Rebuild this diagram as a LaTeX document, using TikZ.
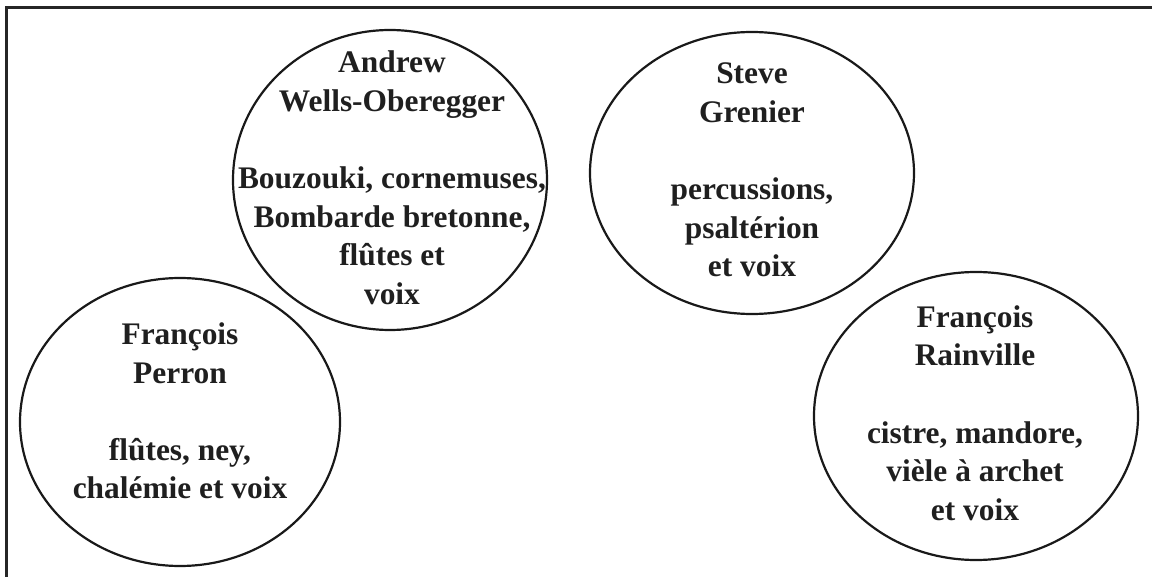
\documentclass[tikz,border=0pt]{standalone}
\usepackage{fontspec}
\setmainfont{Liberation Serif}
\usetikzlibrary{shapes.geometric}
\begin{document}
\begin{tikzpicture}[x=0.5pt,y=-0.5pt,
  member/.style={draw=black!90, line width=1.1pt, ellipse, inner sep=0pt},
  txt/.style={align=center, font=\fontsize{15.7}{19.3}\selectfont\bfseries, text=black!88, inner sep=0pt},
  frameline/.style={draw=black!85, line width=1.5pt}]
\useasboundingbox (0,0) rectangle (1152,577);
\coordinate (fb) at (6,577);
\coordinate (fc) at (6,8);
\coordinate (fr) at (1152,8);
\draw[frameline] (fb) -- (fc) -- (fr);

\node[member, minimum width=157pt, minimum height=150pt] (e1) at (390,180) {};
\node[member, minimum width=162pt, minimum height=141pt] (e2) at (752,173) {};
\node[member, minimum width=160pt, minimum height=144pt] (e3) at (180,422) {};
\node[member, minimum width=162pt, minimum height=144pt] (e4) at (976,416) {};

\node[txt] (t1) at (392,178) {Andrew\\Wells-Oberegger\\[19.3pt]Bouzouki, cornemuses,\\Bombarde bretonne,\\flûtes et\\voix};
\node[txt] (t2) at (752,170) {Steve\\Grenier\\[19.3pt]percussions,\\psaltérion\\et voix};
\node[txt] (t3) at (180,411) {François\\Perron\\[19.3pt]flûtes, ney,\\chalémie et voix};
\node[txt] (t4) at (975,413) {François\\Rainville\\[19.3pt]cistre, mandore,\\vièle à archet\\et voix};
\end{tikzpicture}
\end{document}
